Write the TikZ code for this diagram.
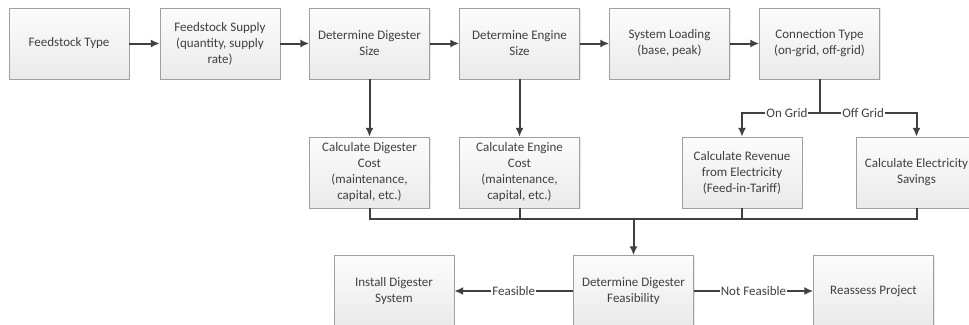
\documentclass[tikz,border=0pt]{standalone}
\usepackage{fontspec}
\setmainfont{Carlito}
\usetikzlibrary{shadows,arrows.meta}
\definecolor{inkgray}{HTML}{404040}
\definecolor{edgegray}{HTML}{A0A0A0}
\definecolor{boxtop}{HTML}{FCFCFC}
\definecolor{boxbottom}{HTML}{EAEAEA}

\begin{document}
\begin{tikzpicture}[x=1pt,y=-1pt,>={Latex[length=9pt,width=8pt]},
    stepbox/.style={draw=edgegray,top color=boxtop,bottom color=boxbottom,
        minimum width=120pt,minimum height=71pt,inner sep=2pt,align=center,
        text=inkgray,font=\fontsize{13}{16}\selectfont,
        drop shadow={opacity=0.18,shadow xshift=1.2pt,shadow yshift=-1.2pt}},
    flow/.style={draw=inkgray,line width=2pt},
    tag/.style={fill=white,inner sep=1pt,text=inkgray,font=\fontsize{13}{16}\selectfont}]
    \useasboundingbox (0,0) rectangle (969,324);

    % the top row
    \node[stepbox] (type)    at (69,43.5)    {Feedstock Type};
    \node[stepbox] (supply)  at (220,43.5)   {Feedstock Supply\\(quantity, supply\\rate)};
    \node[stepbox] (digsize) at (369.5,43.5) {Determine Digester\\Size};
    \node[stepbox] (engsize) at (519.5,43.5) {Determine Engine\\Size};
    \node[stepbox] (loading) at (669.5,43.5) {System Loading\\(base, peak)};
    \node[stepbox] (conn)    at (819.5,43.5) {Connection Type\\(on-grid, off-grid)};

    % the cost and revenue row
    \node[stepbox] (digcost) at (369.5,172.5) {Calculate Digester\\Cost\\(maintenance,\\capital, etc.)};
    \node[stepbox] (engcost) at (519.5,172.5) {Calculate Engine\\Cost\\(maintenance,\\capital, etc.)};
    \node[stepbox] (revenue) at (742,172.5)   {Calculate Revenue\\from Electricity\\(Feed-in-Tariff)};
    \node[stepbox] (savings) at (916.5,172.5) {Calculate Electricity\\Savings};

    % the bottom row
    \node[stepbox] (install)  at (394,291)   {Install Digester\\System};
    \node[stepbox] (feas)     at (633.5,291) {Determine Digester\\Feasibility};
    \node[stepbox] (reassess) at (873.5,291) {Reassess Project};

    % arrows along the top
    \draw[flow,->] (type) -- (supply);
    \draw[flow,->] (supply) -- (digsize);
    \draw[flow,->] (digsize) -- (engsize);
    \draw[flow,->] (engsize) -- (loading);
    \draw[flow,->] (loading) -- (conn);

    % sizes down to costs
    \draw[flow,->] (digsize) -- (digcost);
    \draw[flow,->] (engsize) -- (engcost);

    % the grid split
    \coordinate (split) at (819.5,113);
    \draw[flow] (conn) -- (split);
    \draw[flow,->] (split) -- node[tag,pos=0.42] {On Grid} (revenue.north |- split) -- (revenue);
    \draw[flow,->] (split) -- node[tag,pos=0.45] {Off Grid} (savings.north |- split) -- (savings);

    % everything joins above the feasibility check
    \coordinate (merge) at (633.5,219);
    \draw[flow] (digcost) -- (digcost.south |- merge) -- (savings.south |- merge) -- (savings);
    \draw[flow] (engcost) -- (engcost.south |- merge);
    \draw[flow] (revenue) -- (revenue.south |- merge);
    \draw[flow,->] (merge) -- (feas);

    % outcomes
    \draw[flow,->] (feas) -- node[tag] {Feasible} (install);
    \draw[flow,->] (feas) -- node[tag] {Not Feasible} (reassess);
\end{tikzpicture}
\end{document}
